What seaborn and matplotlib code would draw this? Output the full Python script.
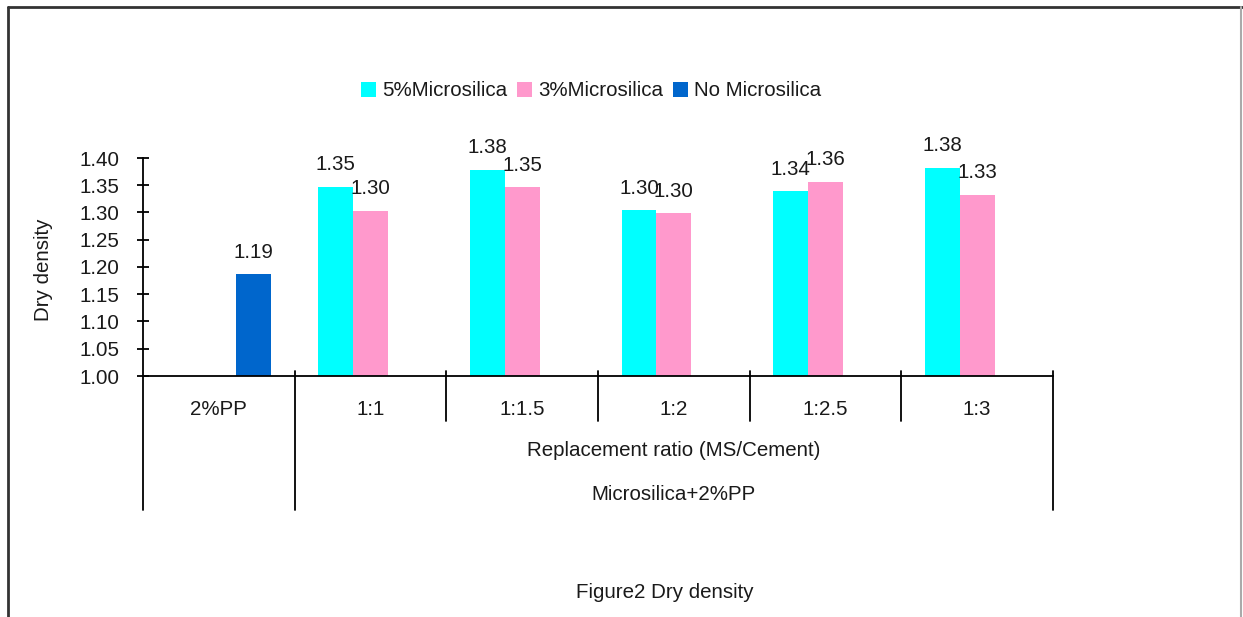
import numpy as np
import pandas as pd
import matplotlib
matplotlib.use("Agg")
import matplotlib.pyplot as plt
import seaborn as sns
from matplotlib.patches import Patch
from matplotlib.lines import Line2D
import matplotlib.transforms as mtransforms

categories = ["2%PP", "1:1", "1:1.5", "1:2", "1:2.5", "1:3"]
series = ["5%Microsilica", "3%Microsilica", "No Microsilica"]
ms5 = [np.nan, 1.347, 1.378, 1.304, 1.339, 1.382]
ms3 = [np.nan, 1.303, 1.346, 1.299, 1.356, 1.333]
no_ms = [1.187, np.nan, np.nan, np.nan, np.nan, np.nan]
yticks = [1.00, 1.05, 1.10, 1.15, 1.20, 1.25, 1.30, 1.35, 1.40]
colors = ["#00FFFF", "#FF99CC", "#0066CC"]

rows = []
for s, vals in zip(series, [ms5, ms3, no_ms]):
    for c, v in zip(categories, vals):
        if not np.isnan(v):
            rows.append({"cat": c, "series": s, "value": v})
df = pd.DataFrame(rows)

sns.set_style("white")
plt.rcParams["font.family"] = ["Liberation Sans", "DejaVu Sans"]
TXT = "#1a1a1a"
FS = 14.8

W, H = 1243, 617
fig = plt.figure(figsize=(W / 100, H / 100), dpi=100)
fig.patch.set_facecolor("white")
ax = fig.add_axes([143 / W, 1 - 376 / H, (1053 - 143) / W, (376 - 158) / H])

sns.barplot(data=df, x="cat", y="value", hue="series", order=categories,
            hue_order=series, palette=colors, width=0.69, gap=0,
            linewidth=0, saturation=1, ax=ax, legend=False, errorbar=None)

for cont in ax.containers:
    ax.bar_label(cont, fmt="%.2f", padding=9, fontsize=FS, color=TXT)

ax.set_ylim(1.0, 1.40)
ax.set_xlim(-0.5, 5.5)
ax.set_yticks(yticks)
ax.set_yticklabels([f"{t:.2f}" for t in yticks], fontsize=FS, color=TXT)
ax.tick_params(axis="y", direction="inout", length=8, width=1.3, color="black", pad=13, left=True)
ax.tick_params(axis="x", length=0, pad=17, labelsize=FS, labelcolor=TXT)
ax.set_xlabel("")
ax.set_ylabel("Dry density", fontsize=FS, color=TXT)
ax.yaxis.set_label_coords(-0.099, 0.486)
for side in ["top", "right"]:
    ax.spines[side].set_visible(False)
for side in ["left", "bottom"]:
    ax.spines[side].set_visible(True)
    ax.spines[side].set_color("black")
    ax.spines[side].set_linewidth(1.3)

# table lines below the axis
trans = mtransforms.blended_transform_factory(ax.transData, ax.transAxes)
def yfrac(p):
    return (376 - p) / 218
for xb, ybot in [(-0.5, 510), (0.5, 510), (1.5, 421), (2.5, 421), (3.5, 421), (4.5, 421), (5.5, 510)]:
    ytop = 376 if xb == -0.5 else 371
    ax.add_line(Line2D([xb, xb], [yfrac(ytop), yfrac(ybot)], transform=trans,
                       color="black", lw=1.3, clip_on=False))

ax.text(3.0, yfrac(451), "Replacement ratio (MS/Cement)", transform=trans,
        ha="center", va="center", fontsize=FS, color=TXT)
ax.text(3.0, yfrac(494), "Microsilica+2%PP", transform=trans,
        ha="center", va="center", fontsize=FS, color=TXT)

handles = [Patch(facecolor=c, edgecolor="none") for c in colors]
fig.legend(handles, series, loc="center", bbox_to_anchor=(591 / W, 1 - 91 / H),
           ncol=3, frameon=False, fontsize=FS, handlelength=0.75, handleheight=0.75,
           handletextpad=0.3, columnspacing=0.45, labelcolor=TXT)

fig.text(665 / W, 1 - 592 / H, "Figure2 Dry density", ha="center", va="center",
         fontsize=FS, color=TXT)

# page frame
fig.add_artist(Line2D([8 / W, 8 / W], [0, 1 - 7 / H], transform=fig.transFigure, color="#333333", lw=2))
fig.add_artist(Line2D([8 / W, 1], [1 - 7 / H, 1 - 7 / H], transform=fig.transFigure, color="#333333", lw=2))
fig.add_artist(Line2D([1241 / W, 1241 / W], [0, 1 - 7 / H], transform=fig.transFigure, color="#aaaaaa", lw=1.5))

fig.savefig("out.png", dpi=100)
